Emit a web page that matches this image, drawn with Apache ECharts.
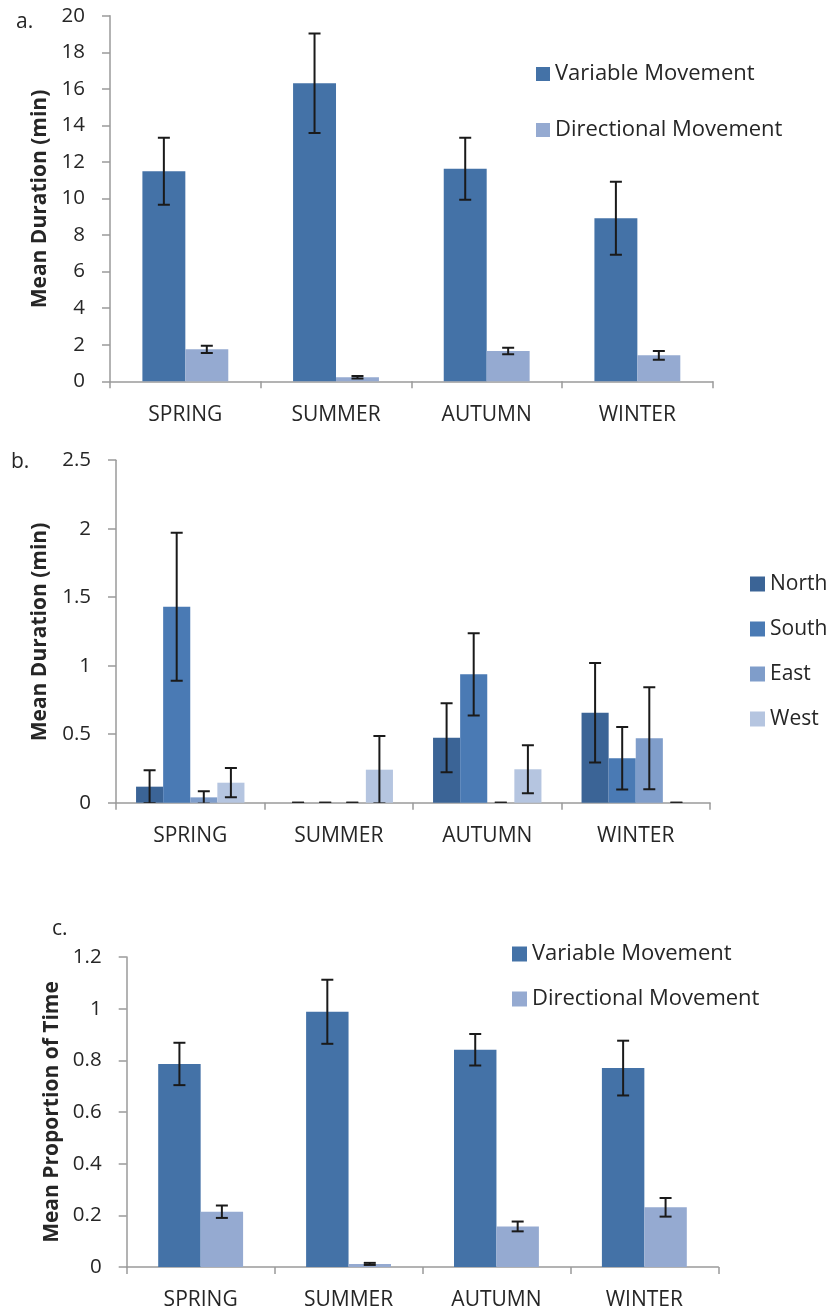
<!DOCTYPE html>
<html>
<head>
<meta charset="utf-8">
<script src="https://cdn.jsdelivr.net/npm/echarts@6/dist/echarts.min.js"></script>
<style>
html,body{margin:0;padding:0;background:#fff;}
#chart{width:830px;height:1313px;}
</style>
</head>
<body>
<div id="chart"></div>
<script>
// ---- data ----
const seasons = ['SPRING', 'SUMMER', 'AUTUMN', 'WINTER'];

// panel a: mean duration (min)
const aVariable = [11.49, 16.3, 11.63, 8.92];
const aVariableErr = [1.83, 2.72, 1.7, 2.0];
const aDirectional = [1.75, 0.22, 1.66, 1.42];
const aDirectionalErr = [0.2, 0.07, 0.18, 0.24];

// panel b: mean duration (min) by direction
const bNorth = [0.117, 0, 0.474, 0.657];
const bNorthErr = [0.12, 0, 0.252, 0.363];
const bSouth = [1.43, 0, 0.937, 0.324];
const bSouthErr = [0.54, 0, 0.3, 0.228];
const bEast = [0.039, 0, 0, 0.47];
const bEastErr = [0.045, 0, 0, 0.372];
const bWest = [0.146, 0.241, 0.244, 0];
const bWestErr = [0.107, 0.245, 0.175, 0];

// panel c: mean proportion of time
const cVariable = [0.786, 0.988, 0.841, 0.770];
const cVariableErr = [0.082, 0.124, 0.061, 0.106];
const cDirectional = [0.214, 0.012, 0.157, 0.231];
const cDirectionalErr = [0.024, 0.004, 0.019, 0.036];

const movementNames = ['Variable Movement', 'Directional Movement'];
const directionNames = ['North', 'South', 'East', 'West'];

// ---- styling ----
const FONT = '"Open Sans", "Noto Sans", sans-serif';
const TXT = '#262626';
const AXIS = '#9a9a9a';
const C_VAR = '#4472A7', C_DIR = '#95AAD1';
const C_N = '#3B6496', C_S = '#4A7AB4', C_E = '#7F9DCA', C_W = '#B5C5E0';

function errRender(nBars, idx, gapFrac) {
  return function (params, api) {
    const cat = api.value(0), v = api.value(1), e = api.value(2);
    const center = api.coord([cat, v]);
    const bandW = api.size([1, 0])[0];
    const barW = bandW * (1 - gapFrac) / nBars;
    const x = center[0] + (idx - (nBars - 1) / 2) * barW;
    const top = api.coord([cat, v + e])[1];
    const bot = api.coord([cat, v - e])[1];
    const cap = 6;
    const st = { stroke: '#1a1a1a', lineWidth: 2 };
    return {
      type: 'group',
      children: [
        { type: 'line', shape: { x1: x, y1: top, x2: x, y2: bot }, style: st },
        { type: 'line', shape: { x1: x - cap, y1: top, x2: x + cap, y2: top }, style: st },
        { type: 'line', shape: { x1: x - cap, y1: bot, x2: x + cap, y2: bot }, style: st }
      ]
    };
  };
}

function errData(vals, errs) {
  return vals.map((v, i) => [i, v, errs[i]]);
}

function xAxisCfg(gridIndex) {
  return {
    type: 'category', gridIndex: gridIndex, data: seasons,
    axisLine: { lineStyle: { color: AXIS, width: 1.5 } },
    axisTick: { show: true, length: 7, lineStyle: { color: AXIS, width: 1.5 } },
    axisLabel: { color: TXT, fontSize: 21, fontFamily: FONT, margin: 23 },
    splitLine: { show: false }
  };
}
function yAxisCfg(gridIndex, max, interval) {
  return {
    type: 'value', gridIndex: gridIndex, min: 0, max: max, interval: interval,
    axisLine: { show: true, lineStyle: { color: AXIS, width: 1.5 } },
    axisTick: { show: true, length: 8, lineStyle: { color: AXIS, width: 1.5 } },
    axisLabel: { color: TXT, fontSize: 20.5, fontFamily: FONT, margin: 25 },
    splitLine: { show: false }
  };
}
function barSeries(name, data, color, xi, gap) {
  return {
    type: 'bar', name: name, data: data, xAxisIndex: xi, yAxisIndex: xi,
    barGap: '0%', barCategoryGap: gap, itemStyle: { color: color },
    animation: false
  };
}
function errSeries(vals, errs, xi, n, idx, gapFrac) {
  return {
    type: 'custom', xAxisIndex: xi, yAxisIndex: xi, data: errData(vals, errs),
    renderItem: errRender(n, idx, gapFrac), z: 10, clip: true, animation: false,
    silent: true
  };
}

const GAP_A = 0.43, GAP_B = 0.27, GAP_C = 0.426;

const legendText = { color: TXT, fontSize: 22, fontFamily: FONT, lineHeight: 22 };
const legendTextB = { color: TXT, fontSize: 21, fontFamily: FONT, lineHeight: 22 };

const option = {
  backgroundColor: '#ffffff',
  animation: false,
  grid: [
    { left: 110, top: 15.7, right: 117.3, bottom: 931.7 },
    { left: 116, top: 460.2, right: 120, bottom: 510.3 },
    { left: 126.7, top: 957, right: 111.7, bottom: 46 }
  ],
  xAxis: [xAxisCfg(0), xAxisCfg(1), xAxisCfg(2)],
  yAxis: [yAxisCfg(0, 20, 2), yAxisCfg(1, 2.5, 0.5), yAxisCfg(2, 1.2, 0.2)],
  legend: [
    { orient: 'vertical', left: 536, top: 63, padding: 0, itemWidth: 14, itemHeight: 14, itemGap: 34,
      icon: 'rect', selectedMode: false, data: movementNames, textStyle: legendText },
    { orient: 'vertical', left: 750, top: 573, padding: 0, itemWidth: 15, itemHeight: 15, itemGap: 23,
      icon: 'rect', selectedMode: false, data: directionNames, textStyle: legendTextB },
    { orient: 'vertical', left: 512, top: 943, padding: 0, itemWidth: 15, itemHeight: 15, itemGap: 23,
      icon: 'rect', selectedMode: false, data: movementNames, textStyle: legendText }
  ],
  graphic: [
    { type: 'text', x: 16, y: 22, style: { text: 'a.', font: '21px ' + FONT, fill: TXT, align: 'left', verticalAlign: 'middle' } },
    { type: 'text', x: 11, y: 462, style: { text: 'b.', font: '21px ' + FONT, fill: TXT, align: 'left', verticalAlign: 'middle' } },
    { type: 'text', x: 52, y: 929, style: { text: 'c.', font: '21px ' + FONT, fill: TXT, align: 'left', verticalAlign: 'middle' } },
    { type: 'text', x: 40, y: 199, rotation: Math.PI / 2, style: { text: 'Mean Duration (min)', font: 'bold 21px ' + FONT, fill: TXT, align: 'center', verticalAlign: 'middle' } },
    { type: 'text', x: 40, y: 632, rotation: Math.PI / 2, style: { text: 'Mean Duration (min)', font: 'bold 21px ' + FONT, fill: TXT, align: 'center', verticalAlign: 'middle' } },
    { type: 'text', x: 52.5, y: 1112, rotation: Math.PI / 2, style: { text: 'Mean Proportion of Time', font: 'bold 21px ' + FONT, fill: TXT, align: 'center', verticalAlign: 'middle' } }
  ],
  series: [
    barSeries(movementNames[0], aVariable, C_VAR, 0, '43%'),
    barSeries(movementNames[1], aDirectional, C_DIR, 0, '43%'),
    errSeries(aVariable, aVariableErr, 0, 2, 0, GAP_A),
    errSeries(aDirectional, aDirectionalErr, 0, 2, 1, GAP_A),

    barSeries('North', bNorth, C_N, 1, '27%'),
    barSeries('South', bSouth, C_S, 1, '27%'),
    barSeries('East', bEast, C_E, 1, '27%'),
    barSeries('West', bWest, C_W, 1, '27%'),
    errSeries(bNorth, bNorthErr, 1, 4, 0, GAP_B),
    errSeries(bSouth, bSouthErr, 1, 4, 1, GAP_B),
    errSeries(bEast, bEastErr, 1, 4, 2, GAP_B),
    errSeries(bWest, bWestErr, 1, 4, 3, GAP_B),

    barSeries(movementNames[0], cVariable, C_VAR, 2, '42.6%'),
    barSeries(movementNames[1], cDirectional, C_DIR, 2, '42.6%'),
    errSeries(cVariable, cVariableErr, 2, 2, 0, GAP_C),
    errSeries(cDirectional, cDirectionalErr, 2, 2, 1, GAP_C)
  ]
};

const chart = echarts.init(document.getElementById('chart'), null, { renderer: 'canvas' });
chart.setOption(option);
</script>
</body>
</html>
